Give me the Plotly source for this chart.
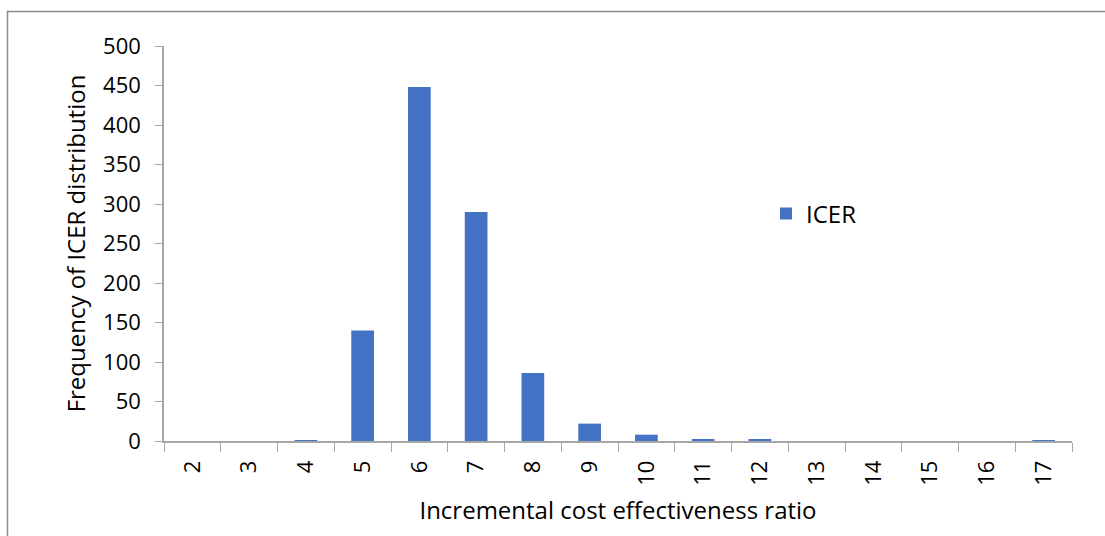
import plotly.graph_objects as go

categories = ["2", "3", "4", "5", "6", "7", "8", "9", "10", "11", "12", "13", "14", "15", "16", "17"]
icer_freq = [0, 0, 1, 140, 448, 290, 86, 22, 8, 2, 2, 0, 0, 0, 0, 1]
y_ticks = [0, 50, 100, 150, 200, 250, 300, 350, 400, 450, 500]

W, H = 1105, 536
ml, mr, mt, mb = 164, 33, 46, 95
pw, ph = W - ml - mr, H - mt - mb

font = "Open Sans"
tick_size = 22
title_size = 24

fig = go.Figure()
fig.add_trace(go.Bar(x=categories, y=icer_freq, name="ICER",
                     marker=dict(color="#4472C4", line=dict(width=0))))

fig.update_layout(
    width=W, height=H,
    margin=dict(l=ml, r=mr, t=mt, b=mb),
    paper_bgcolor="white", plot_bgcolor="white",
    bargap=0.6,
    showlegend=True,
    legend=dict(x=(766 - ml) / pw, y=(441 - 214) / ph, xanchor="left", yanchor="middle",
                font=dict(family=font, size=title_size, color="#000000"),
                bgcolor="rgba(0,0,0,0)"),
    font=dict(family=font, size=tick_size, color="#000000"),
)
fig.update_xaxes(
    type="category", tickangle=-90, tickson="boundaries",
    ticks="outside", ticklen=9, tickcolor="#A6A6A6",
    showline=True, linecolor="#A6A6A6", linewidth=1.5,
    showgrid=False, ticklabelstandoff=9,
    tickfont=dict(family=font, size=tick_size, color="#000000"),
    title=dict(text="Incremental cost effectiveness ratio",
               font=dict(family=font, size=title_size, color="#000000"), standoff=17),
)
fig.update_yaxes(
    range=[0, 500], tickvals=y_ticks,
    ticks="outside", ticklen=7, tickcolor="#A6A6A6",
    showline=True, linecolor="#A6A6A6", linewidth=1.5,
    showgrid=False, zeroline=False, ticklabelstandoff=10,
    tickfont=dict(family=font, size=tick_size, color="#000000"),
    title=dict(text="Frequency of ICER distribution",
               font=dict(family=font, size=title_size, color="#000000"), standoff=11),
)
# chart border (Excel chart area outline)
fig.add_shape(type="rect", xref="paper", yref="paper",
              x0=(7.5 - ml) / pw, x1=(W + 5 - ml) / pw,
              y0=(H - mb - (H + 5)) / ph, y1=(H - mb - 11.5) / ph,
              line=dict(color="#8C8C8C", width=1.5), fillcolor="rgba(0,0,0,0)", layer="below")

fig.write_html("out.html")
